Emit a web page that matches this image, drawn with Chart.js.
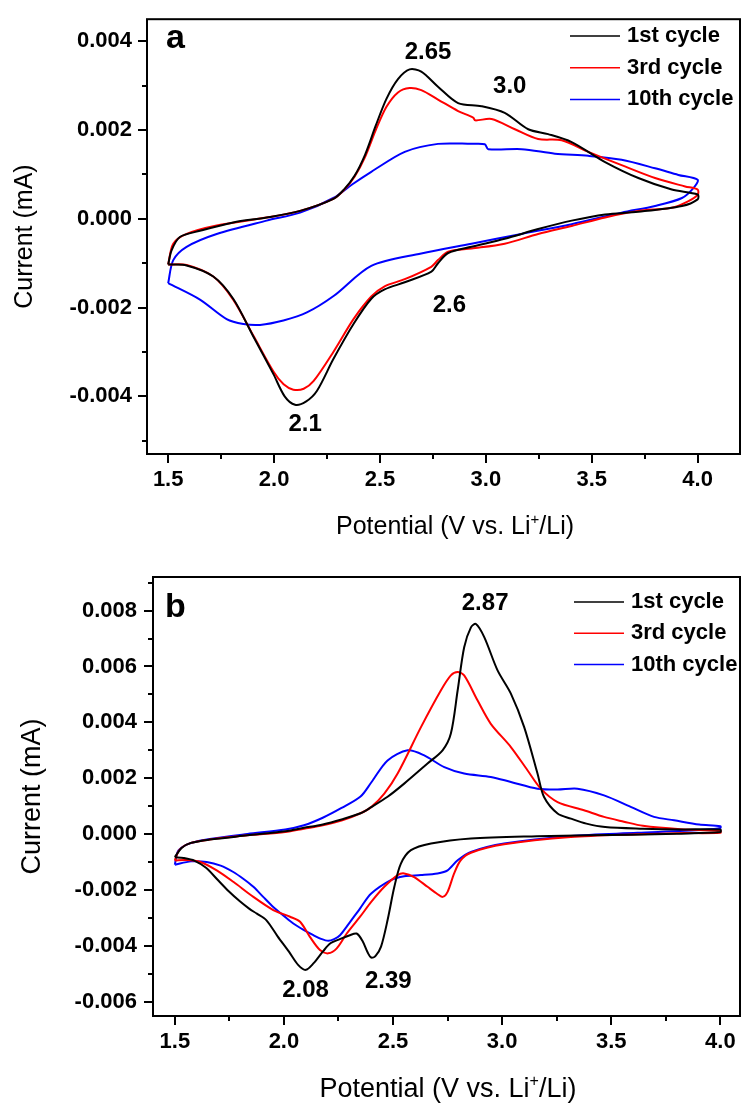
<!DOCTYPE html>
<html>
<head>
<title>Cyclic voltammograms</title>
<script src="https://cdn.jsdelivr.net/npm/chart.js"></script>
<style>
  body { margin: 0; background: #fff; }
  .figure { position: relative; width: 742px; height: 1103px; }
  canvas { position: absolute; left: 0; }
  #chartA { top: 0; }
  #chartB { top: 540px; }
</style>
</head>
<body>
<div class="figure">
  <canvas id="chartA" width="742" height="540"></canvas>
  <canvas id="chartB" width="742" height="563"></canvas>
</div>
<script>
// ---- data (potential in V, current in mA), each loop: anodic sweep then cathodic sweep ----
const cycleLabels = ['1st cycle', '3rd cycle', '10th cycle'];

// panel a
const potA1 = [1.5, 1.516, 1.555, 1.65, 1.807, 1.965, 2.123, 2.28, 2.33, 2.38, 2.43, 2.48, 2.53, 2.585, 2.64, 2.695, 2.774, 2.869, 2.979, 3.089, 3.2, 3.294, 3.405, 3.563, 3.72, 3.878, 4.0,
  4.0, 3.926, 3.72, 3.563, 3.405, 3.247, 3.089, 2.932, 2.822, 2.774, 2.743, 2.617, 2.522, 2.459, 2.375, 2.28, 2.202, 2.15, 2.099, 2.05, 1.997, 1.902, 1.807, 1.713, 1.587, 1.5];
const curA1 = [-0.00103, -0.00071, -0.00041, -0.00027, -0.00008, 0.00003, 0.00018, 0.00045, 0.00066, 0.00097, 0.00145, 0.0021, 0.0027, 0.00315, 0.00337, 0.00332, 0.00298, 0.00261, 0.00254, 0.00239, 0.00202, 0.00191, 0.00173, 0.00128, 0.00092, 0.00066, 0.00055,
  0.00044, 0.00029, 0.00016, 0.0001, -0.00004, -0.00023, -0.00045, -0.00063, -0.00077, -0.001, -0.00119, -0.00143, -0.00159, -0.0018, -0.00237, -0.00316, -0.00388, -0.00412, -0.00419, -0.004, -0.0035, -0.00265, -0.0018, -0.0013, -0.00105, -0.00103];

const potA3 = [1.5, 1.524, 1.587, 1.729, 1.965, 2.123, 2.28, 2.33, 2.38, 2.43, 2.48, 2.53, 2.585, 2.64, 2.695, 2.774, 2.869, 2.94, 2.95, 3.027, 3.137, 3.247, 3.358, 3.484, 3.641, 3.799, 3.941, 4.0,
  4.0, 3.957, 3.878, 3.72, 3.563, 3.405, 3.247, 3.089, 2.932, 2.822, 2.774, 2.742, 2.617, 2.522, 2.459, 2.375, 2.28, 2.186, 2.14, 2.091, 2.045, 1.997, 1.902, 1.807, 1.713, 1.587, 1.5];
const curA3 = [-0.00103, -0.00056, -0.00034, -0.00015, 0.00003, 0.00018, 0.00045, 0.00065, 0.00095, 0.0014, 0.002, 0.00252, 0.00285, 0.00295, 0.0029, 0.00269, 0.00243, 0.00228, 0.00222, 0.00225, 0.00202, 0.0018, 0.00177, 0.00151, 0.00121, 0.00092, 0.00073, 0.00066,
  0.00054, 0.0004, 0.00025, 0.00018, 0.00003, -0.00016, -0.00034, -0.00056, -0.00067, -0.00074, -0.00093, -0.00108, -0.00136, -0.00152, -0.00175, -0.00226, -0.003, -0.00366, -0.00383, -0.00385, -0.00373, -0.00344, -0.00263, -0.00182, -0.0013, -0.00104, -0.00103];

const potA10 = [1.5, 1.524, 1.587, 1.729, 1.965, 2.123, 2.28, 2.37, 2.459, 2.617, 2.774, 2.932, 2.995, 3.011, 3.169, 3.326, 3.484, 3.641, 3.799, 3.909, 4.0,
  3.981, 3.926, 3.799, 3.641, 3.405, 3.168, 2.932, 2.695, 2.459, 2.281, 2.155, 2.044, 1.934, 1.855, 1.776, 1.65, 1.5];
const curA10 = [-0.00145, -0.00093, -0.00063, -0.00034, -0.00004, 0.00014, 0.00047, 0.00078, 0.00106, 0.00151, 0.00169, 0.00169, 0.00168, 0.00157, 0.00157, 0.00147, 0.00142, 0.00133, 0.00114, 0.00099, 0.00088,
  0.0007, 0.00047, 0.00029, 0.00014, -0.00012, -0.00034, -0.00056, -0.00078, -0.00106, -0.00174, -0.00211, -0.00229, -0.00239, -0.00237, -0.00226, -0.00182, -0.00145];

// panel b
const potB1 = [1.5, 1.531, 1.574, 1.66, 1.833, 2.006, 2.092, 2.178, 2.264, 2.351, 2.4, 2.475, 2.551, 2.658, 2.727, 2.765, 2.796, 2.826, 2.857, 2.88, 2.918, 2.979, 3.04, 3.101, 3.162, 3.192, 3.254, 3.315, 3.386, 3.472, 3.645, 3.817, 4.0,
  4.0, 3.8, 3.6, 3.4, 3.16, 2.857, 2.674, 2.582, 2.536, 2.506, 2.475, 2.445, 2.42, 2.4, 2.385, 2.359, 2.333, 2.299, 2.256, 2.213, 2.178, 2.135, 2.1, 2.066, 2.023, 1.971, 1.919, 1.876, 1.842, 1.798, 1.747, 1.695, 1.643, 1.591, 1.54, 1.5];
const curB1 = [-0.00082, -0.00049, -0.00031, -0.00019, -0.00004, 0.00011, 0.00023, 0.00035, 0.00053, 0.00075, 0.00097, 0.00134, 0.00181, 0.00253, 0.003, 0.0036, 0.00514, 0.00669, 0.0074, 0.00752, 0.00705, 0.00586, 0.00503, 0.00383, 0.00217, 0.00133, 0.00074, 0.00056, 0.00038, 0.00026, 0.0002, 0.00017, 0.00017,
  0.00008, 0.00002, -0.00002, -0.00004, -0.00007, -0.00015, -0.00033, -0.00057, -0.00105, -0.00188, -0.00307, -0.00402, -0.00435, -0.00441, -0.00425, -0.0038, -0.00355, -0.00362, -0.00375, -0.0039, -0.0042, -0.00462, -0.00485, -0.00468, -0.0042, -0.00365, -0.00307, -0.00284, -0.00267, -0.0024, -0.00204, -0.00162, -0.0012, -0.00095, -0.00085, -0.00082];

const potB3 = [1.5, 1.522, 1.574, 1.66, 1.833, 2.006, 2.092, 2.178, 2.264, 2.351, 2.4, 2.46, 2.521, 2.628, 2.719, 2.765, 2.796, 2.826, 2.887, 2.948, 3.04, 3.116, 3.177, 3.254, 3.375, 3.467, 3.558, 3.645, 3.817, 4.0,
  4.0, 3.8, 3.62, 3.315, 3.009, 2.857, 2.81, 2.78, 2.75, 2.727, 2.7, 2.658, 2.597, 2.551, 2.521, 2.46, 2.4, 2.349, 2.288, 2.242, 2.203, 2.165, 2.119, 2.074, 2.028, 1.951, 1.86, 1.768, 1.692, 1.617, 1.55, 1.5];
const curB3 = [-0.00094, -0.00055, -0.00031, -0.00019, -0.00004, 0.00008, 0.0002, 0.00032, 0.00049, 0.00075, 0.00097, 0.00145, 0.00217, 0.00383, 0.00514, 0.00568, 0.0058, 0.00568, 0.00479, 0.00395, 0.00312, 0.00229, 0.00163, 0.00115, 0.00086, 0.00062, 0.00045, 0.0003, 0.00018, 0.00012,
  0.00005, 0.00004, 0.0, -0.0001, -0.00036, -0.00066, -0.00093, -0.0014, -0.00206, -0.00224, -0.00212, -0.00188, -0.00153, -0.0014, -0.00146, -0.00188, -0.00242, -0.00295, -0.00355, -0.00408, -0.00426, -0.00414, -0.00367, -0.00313, -0.00295, -0.00271, -0.00224, -0.0017, -0.00129, -0.00099, -0.00092, -0.00094];

const potB10 = [1.5, 1.514, 1.54, 1.574, 1.66, 1.833, 2.006, 2.092, 2.178, 2.264, 2.351, 2.4, 2.475, 2.567, 2.643, 2.735, 2.826, 2.948, 3.04, 3.162, 3.254, 3.345, 3.467, 3.589, 3.696, 3.788, 3.903, 4.0,
  4.0, 3.925, 3.62, 3.315, 3.009, 2.857, 2.796, 2.75, 2.704, 2.628, 2.551, 2.49, 2.4, 2.35, 2.29, 2.257, 2.23, 2.203, 2.17, 2.135, 2.09, 2.043, 2.0, 1.951, 1.905, 1.86, 1.815, 1.768, 1.71, 1.646, 1.574, 1.5];
const curB10 = [-0.00109, -0.00061, -0.00043, -0.00031, -0.00017, 0.00001, 0.00017, 0.00032, 0.00059, 0.00094, 0.00135, 0.00185, 0.00264, 0.003, 0.00282, 0.0024, 0.00217, 0.00205, 0.00187, 0.00163, 0.0016, 0.00163, 0.00139, 0.00098, 0.00062, 0.0005, 0.00035, 0.00029,
  0.00022, 0.00016, 0.00005, -0.00006, -0.00033, -0.00063, -0.00093, -0.00129, -0.0014, -0.00146, -0.0015, -0.00164, -0.00212, -0.00264, -0.00328, -0.00361, -0.00375, -0.00381, -0.00374, -0.00361, -0.00342, -0.00319, -0.00292, -0.0026, -0.00224, -0.00188, -0.0016, -0.00135, -0.00112, -0.00099, -0.00097, -0.00109];

// ticks
const xTicks = [1.5, 2.0, 2.5, 3.0, 3.5, 4.0];
const xMinorTicks = [1.75, 2.25, 2.75, 3.25, 3.75];
const yTicksA = [-0.004, -0.002, 0, 0.002, 0.004];
const yMinorA = [-0.005, -0.003, -0.001, 0.001, 0.003];
const yTicksB = [-0.006, -0.004, -0.002, 0, 0.002, 0.004, 0.006, 0.008];
const yMinorB = [-0.005, -0.003, -0.001, 0.001, 0.003, 0.005, 0.007, 0.009];

// peak annotations
const notesTextA = ['2.65', '3.0', '2.6', '2.1'];
const notesPotA = [2.727, 3.113, 2.828, 2.147];
const notesCurA = [0.00361, 0.002835, -0.00211, -0.00479];
const notesTextB = ['2.87', '2.08', '2.39'];
const notesPotB = [2.922, 2.099, 2.478];
const notesCurB = [0.008025, -0.00581, -0.00551];

const xTitleBefore = 'Potential (V vs. Li';
const xTitleSup = '+';
const xTitleAfter = '/Li)';
const yTitle = 'Current (mA)';

// ---- drawing ----
const FONT = '"Liberation Sans", Arial, Helvetica, sans-serif';
const colors = ['#000000', '#ff0000', '#0000ff'];

function loop(pot, cur) {
  return pot.map((x, i) => ({ x, y: cur[i] }));
}

const decorations = {
  id: 'decorations',
  afterDraw(chart, args, o) {
    const { ctx, chartArea: a, scales: { x, y } } = chart;
    ctx.save();
    ctx.strokeStyle = '#000';
    ctx.lineWidth = 2;
    ctx.strokeRect(a.left, a.top, a.right - a.left, a.bottom - a.top);

    // minor ticks
    ctx.beginPath();
    xMinorTicks.forEach(v => {
      const px = Math.round(x.getPixelForValue(v));
      ctx.moveTo(px, a.bottom); ctx.lineTo(px, a.bottom + 5);
    });
    o.yMinor.forEach(v => {
      const py = Math.round(y.getPixelForValue(v));
      ctx.moveTo(a.left, py); ctx.lineTo(a.left - 5, py);
    });
    ctx.stroke();

    ctx.fillStyle = '#000';
    ctx.textBaseline = 'alphabetic';

    // panel letter
    ctx.font = `bold 34px ${FONT}`;
    ctx.textAlign = 'left';
    ctx.fillText(o.letter, o.letterX, o.letterY);

    // peak labels
    ctx.font = `bold 24px ${FONT}`;
    ctx.textAlign = 'center';
    o.notes.text.forEach((t, i) => {
      ctx.fillText(t, x.getPixelForValue(o.notes.pot[i]), y.getPixelForValue(o.notes.cur[i]));
    });

    // legend
    const L = o.legend;
    chart.data.datasets.forEach((ds, i) => {
      const ly = L.y0 + i * L.dy;
      ctx.strokeStyle = ds.borderColor;
      ctx.lineWidth = 1.5;
      ctx.beginPath();
      ctx.moveTo(L.x0, ly); ctx.lineTo(L.x1, ly);
      ctx.stroke();
      ctx.font = `bold 22px ${FONT}`;
      ctx.textAlign = 'left';
      ctx.fillText(ds.label, L.textX, ly + 6);
    });

    // x axis title with superscript
    const T = o.xTitle;
    const main = `${T.size}px ${FONT}`;
    const sup = `${Math.round(T.size * 0.6)}px ${FONT}`;
    ctx.font = main;
    const w1 = ctx.measureText(xTitleBefore).width;
    const w3 = ctx.measureText(xTitleAfter).width;
    ctx.font = sup;
    const w2 = ctx.measureText(xTitleSup).width;
    let tx = T.x - (w1 + w2 + w3) / 2;
    ctx.textAlign = 'left';
    ctx.font = main;
    ctx.fillText(xTitleBefore, tx, T.y);
    tx += w1;
    ctx.font = sup;
    ctx.fillText(xTitleSup, tx, T.y - T.size * 0.42);
    tx += w2;
    ctx.font = main;
    ctx.fillText(xTitleAfter, tx, T.y);
    ctx.restore();
  }
};

function makeChart(id, cfg) {
  const canvas = document.getElementById(id);
  const W = canvas.width, H = canvas.height;
  const sets = cfg.loops.map((l, i) => ({
    label: cycleLabels[i],
    data: loop(l[0], l[1]),
    showLine: true,
    borderColor: colors[i],
    backgroundColor: colors[i],
    borderWidth: 2,
    pointRadius: 0,
    tension: 0.3,
    fill: false
  }));
  return new Chart(canvas, {
    type: 'scatter',
    data: { datasets: sets },
    plugins: [decorations],
    options: {
      responsive: false,
      animation: false,
      devicePixelRatio: 1,
      layout: { autoPadding: false, padding: { top: cfg.area.top, right: W - cfg.area.right, left: 0, bottom: 0 } },
      plugins: {
        legend: { display: false },
        tooltip: { enabled: false },
        decorations: cfg.deco
      },
      scales: {
        x: {
          type: 'linear', position: 'bottom',
          min: cfg.xMin, max: cfg.xMax,
          afterBuildTicks: s => { s.ticks = xTicks.map(v => ({ value: v })); },
          afterFit: s => { s.height = H - cfg.area.bottom; },
          grid: { drawOnChartArea: false, color: '#000', lineWidth: 2, tickLength: 9 },
          border: { display: false },
          ticks: { color: '#000', autoSkip: false, maxRotation: 0, padding: 4,
                   font: { family: FONT, size: 22, weight: 'bold' },
                   callback: v => v.toFixed(1) }
        },
        y: {
          type: 'linear', position: 'left',
          min: cfg.yMin, max: cfg.yMax,
          afterBuildTicks: s => { s.ticks = cfg.yTicks.map(v => ({ value: v })); },
          afterFit: s => { s.width = cfg.area.left; },
          grid: { drawOnChartArea: false, color: '#000', lineWidth: 2, tickLength: 9 },
          border: { display: false },
          ticks: { color: '#000', autoSkip: false, padding: cfg.yPad,
                   font: { family: FONT, size: 22, weight: 'bold' },
                   callback: v => v.toFixed(3) },
          title: { display: true, text: yTitle, color: '#000',
                   font: { family: FONT, size: cfg.titleSize }, padding: { top: cfg.yTitlePad } }
        }
      }
    }
  });
}

makeChart('chartA', {
  loops: [[potA1, curA1], [potA3, curA3], [potA10, curA10]],
  area: { left: 147, right: 740, top: 11, bottom: 454 },
  xMin: 1.4, xMax: 4.2, yMin: -0.0053, yMax: 0.0045,
  yTicks: yTicksA, yPad: 6, titleSize: 25, yTitlePad: 10,
  deco: {
    yMinor: yMinorA, letter: 'a', letterX: 166, letterY: 48,
    notes: { text: notesTextA, pot: notesPotA, cur: notesCurA },
    legend: { x0: 570, x1: 620, textX: 627, y0: 36, dy: 31.7 },
    xTitle: { x: 455, y: 534, size: 25 }
  }
});

makeChart('chartB', {
  loops: [[potB1, curB1], [potB3, curB3], [potB10, curB10]],
  area: { left: 153, right: 740, top: 37, bottom: 476 },
  xMin: 1.4, xMax: 4.09, yMin: -0.0065, yMax: 0.0092,
  yTicks: yTicksB, yPad: 7, titleSize: 27, yTitlePad: 16,
  deco: {
    yMinor: yMinorB, letter: 'b', letterX: 165, letterY: 77,
    notes: { text: notesTextB, pot: notesPotB, cur: notesCurB },
    legend: { x0: 574, x1: 624, textX: 631, y0: 62, dy: 31.3 },
    xTitle: { x: 448, y: 557, size: 27 }
  }
});
</script>
</body>
</html>
